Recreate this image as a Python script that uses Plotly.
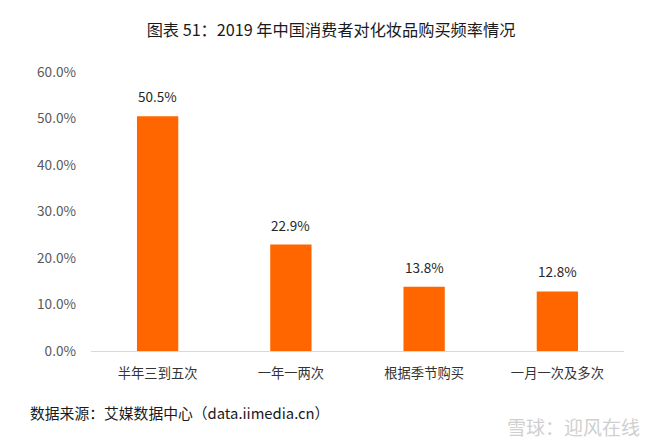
import plotly.graph_objects as go

categories = ['半年三到五次', '一年一两次', '根据季节购买', '一月一次及多次']
values = [50.5, 22.9, 13.8, 12.8]
tick_vals = [0, 10, 20, 30, 40, 50, 60]
tick_text = [f'{v:.1f}%' for v in tick_vals]

font_family = 'Noto Sans CJK SC'

fig = go.Figure()
fig.add_trace(go.Bar(
    x=categories,
    y=values,
    marker=dict(color='#ff6600', line=dict(width=0)),
    hoverinfo='x+y',
))

# value labels above the bars
labels = [
    dict(x=c, y=v, text=f'{v:.1f}%', showarrow=False,
         xanchor='center', yanchor='bottom', yshift=8,
         font=dict(size=13.5, color='#262626', family=font_family))
    for c, v in zip(categories, values)
]

fig.update_layout(
    width=662, height=447,
    margin=dict(l=91, r=38, t=72, b=96),
    paper_bgcolor='white',
    plot_bgcolor='white',
    bargap=0.69,
    showlegend=False,
    font=dict(family=font_family),
    title=dict(
        text='图表 51：2019 年中国消费者对化妆品购买频率情况',
        x=0.5, xanchor='center', y=0.933, yanchor='middle',
        font=dict(size=16.2, color='#1a1a1a', family=font_family),
    ),
    xaxis=dict(
        showline=True, linecolor='#d9d9d9', linewidth=1,
        ticks='', tickfont=dict(size=13.3, color='#333333'),
        showgrid=False, ticklabelstandoff=10,
    ),
    yaxis=dict(
        range=[0, 60], tickvals=tick_vals, ticktext=tick_text,
        showgrid=False, zeroline=False, showline=False,
        tickfont=dict(size=13.6, color='#595959'),
        ticklabelstandoff=14,
    ),
    annotations=labels + [
        dict(text='数据来源：艾媒数据中心（data.iimedia.cn）',
             xref='paper', yref='paper', x=-0.118, y=-0.222,
             xanchor='left', yanchor='middle', showarrow=False,
             font=dict(size=14.8, color='#1a1a1a', family=font_family)),
        dict(text='雪球：迎风在线',
             xref='paper', yref='paper', x=1.034, y=-0.272,
             xanchor='right', yanchor='middle', showarrow=False,
             font=dict(size=19, color='#cfcfcf', family=font_family)),
    ],
)

fig.write_html('out.html', config={'displayModeBar': False},
               post_script="document.body.style.margin='0';")
